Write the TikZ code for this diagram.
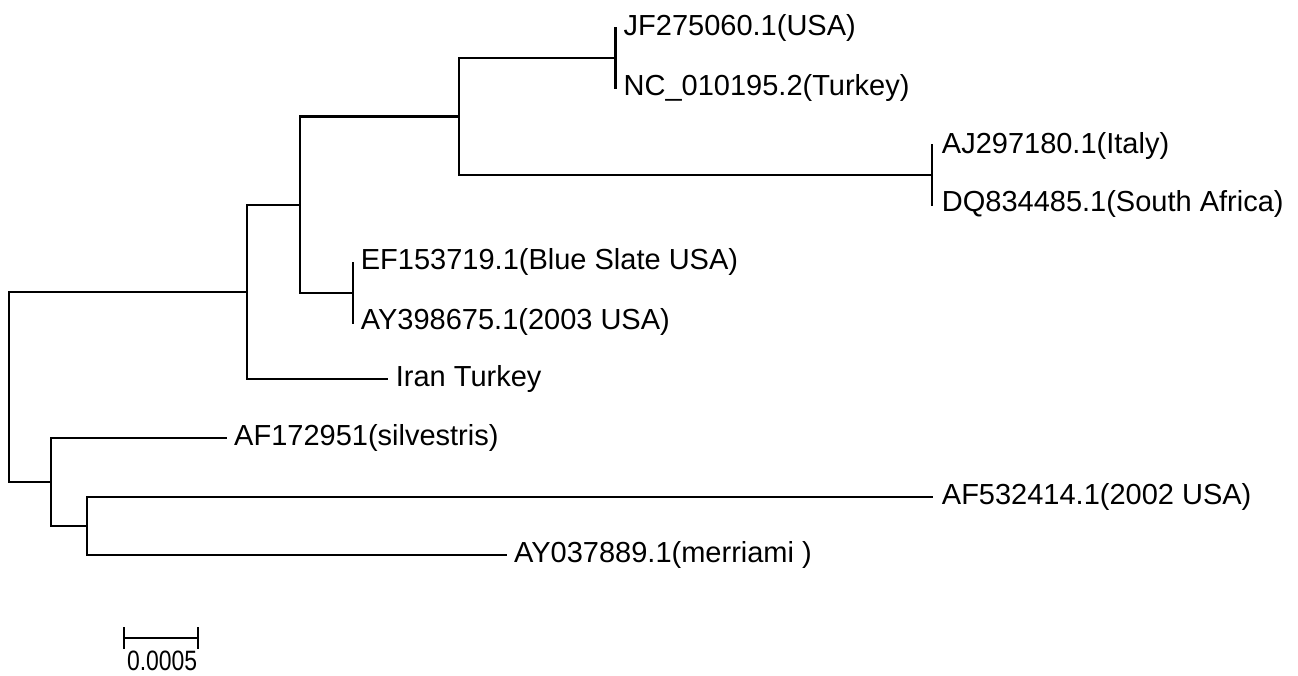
\documentclass[tikz,border=0pt]{standalone}
\usepackage{fontspec}
\setmainfont{Liberation Sans}
\usetikzlibrary{calc}
\tikzset{
    % Branches of the tree, drawn as plain square corners
    branch/.style={line width=2.2pt, line cap=rect},
%
    % Names of the taxa at the tips
    leaf label/.style={inner sep=0, anchor=base west,
        font=\fontsize{29}{34}\selectfont}}

\begin{document}
\begin{tikzpicture}[x=1pt, y=-1pt]
\useasboundingbox (0,0) rectangle (1298,675);

% Tips of the tree
\coordinate (jf) at (615.5,28);
\coordinate (nc) at (615.5,88);
\coordinate (aj) at (931.7,145);
\coordinate (dq) at (931.7,205);
\coordinate (ef) at (352.7,262.7);
\coordinate (ay398) at (352.7,322.7);
\coordinate (iran) at (386.7,379);
\coordinate (af172) at (226,438.3);
\coordinate (af532) at (931.7,497.3);
\coordinate (ay037) at (506,555);

% Pairs joined with no length between them
\coordinate (jf nc) at ($(jf)!0.5!(nc)$);
\coordinate (aj dq) at ($(aj)!0.5!(dq)$);
\coordinate (ef ay) at ($(ef)!0.5!(ay398)$);

% Inner nodes
\coordinate (usa turkey) at (459,{(58+175)/2});
\coordinate (clade b) at (299.6,{(116.5+292.7)/2});
\coordinate (clade a) at (247,{(204.6+379)/2});
\coordinate (clade e) at (87,{(497.3+555)/2});
\coordinate (clade d) at (50.6,{(438.3+526.2)/2});
\coordinate (root) at (8.7,{(291.8+482.2)/2});

% Branches
\draw [branch] (jf) -- (nc);
\draw [branch] (aj) -- (dq);
\draw [branch] (ef) -- (ay398);
\draw [branch] (usa turkey) |- (jf nc);
\draw [branch] (usa turkey) |- (aj dq);
\draw [branch] (clade b) |- (usa turkey);
\draw [branch] (clade b) |- (ef ay);
\draw [branch] (clade a) |- (clade b);
\draw [branch] (clade a) |- (iran);
\draw [branch] (clade e) |- (af532);
\draw [branch] (clade e) |- (ay037);
\draw [branch] (clade d) |- (af172);
\draw [branch] (clade d) |- (clade e);
\draw [branch] (root) |- (clade a);
\draw [branch] (root) |- (clade d);

% Taxon names
\node [leaf label] (jf label) at ([xshift=8pt, yshift=-7pt]jf) {JF275060.1(USA)};
\node [leaf label] (nc label) at ([xshift=8pt, yshift=-7pt]nc)
    {NC\_010195.2(Turkey)};
\node [leaf label] (aj label) at ([xshift=10pt, yshift=-8pt]aj)
    {AJ297180.1(Italy)};
\node [leaf label] (dq label) at ([xshift=10pt, yshift=-6pt]dq)
    {DQ834485.1(South Africa)};
\node [leaf label] (ef label) at ([xshift=8pt, yshift=-7pt]ef)
    {EF153719.1(Blue Slate USA)};
\node [leaf label] (ay398 label) at ([xshift=8pt, yshift=-7pt]ay398)
    {AY398675.1(2003 USA)};
\node [leaf label] (iran label) at ([xshift=9pt, yshift=-7pt]iran) {Iran Turkey};
\node [leaf label] (af172 label) at ([xshift=8pt, yshift=-7pt]af172)
    {AF172951(silvestris)};
\node [leaf label] (af532 label) at ([xshift=10pt, yshift=-7pt]af532)
    {AF532414.1(2002 USA)};
\node [leaf label] (ay037 label) at ([xshift=8pt, yshift=-7pt]ay037)
    {AY037889.1(merriami )};

% Scale bar
\coordinate (bar left) at (124,638.3);
\coordinate (bar right) at (198.3,638.3);
\draw [branch, line width=2pt] (bar left) -- (bar right);
\draw [branch, line width=2pt] ([yshift=10pt]bar left) -- ([yshift=-10pt]bar left);
\draw [branch, line width=2pt] ([yshift=10pt]bar right) -- ([yshift=-10pt]bar right);
\node [inner sep=0, anchor=north, font=\fontsize{28}{30}\selectfont]
    (bar label) at ($(bar left)!0.5!(bar right)+(1,12)$)
    {\scalebox{0.82}[1]{0.0005}};

\end{tikzpicture}
\end{document}
